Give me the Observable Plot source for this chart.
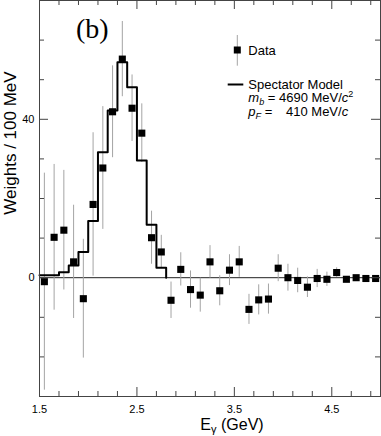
<!DOCTYPE html>
<html>
<head>
<meta charset="utf-8">
<script src="https://cdn.jsdelivr.net/npm/d3@7"></script>
<script src="https://cdn.jsdelivr.net/npm/@observablehq/plot@0.6"></script>
<style>
  body { margin: 0; background: #fff; }
  #chart svg { display: block; }
</style>
</head>
<body>
<div id="chart"></div>
<script>
// ---- data ----
const energy = [1.55, 1.65, 1.75, 1.85, 1.95, 2.05, 2.15, 2.25, 2.35, 2.45, 2.55, 2.65,
  2.75, 2.85, 2.95, 3.05, 3.15, 3.25, 3.35, 3.45, 3.55, 3.65, 3.75, 3.85, 3.95,
  4.05, 4.15, 4.25, 4.35, 4.45, 4.55, 4.65, 4.75, 4.85, 4.95];
const weights = [-1.0, 10.2, 12.0, 4.0, -5.3, 18.5, 27.7, 41.9, 55.2, 42.8, 36.5, 10.1,
  6.5, -5.7, 2.1, -3.0, -4.4, 4.0, -3.3, 1.9, 4.0, -8.0, -5.6, -5.4, 2.4,
  0.0, -0.7, -2.4, -0.2, -0.4, 1.3, -0.4, 0.0, -0.2, -0.2];
const errors = [27.4, 18.4, 15.1, 14.3, 15.0, 18.1, 15.5, 11.6, 9.5, 8.4, 7.4, 6.7,
  4.2, 4.6, 4.2, 4.7, 4.3, 4.1, 3.8, 3.9, 3.9, 3.8, 3.8, 3.8, 3.4,
  3.4, 3.1, 2.6, 2.3, 1.8, 1.2, 0.5, 0.4, 0.3, 0.3];
const modelEdges = [1.5, 1.6, 1.7, 1.8, 1.9, 2.0, 2.1, 2.2, 2.3, 2.4, 2.5, 2.6, 2.7, 2.8];
const modelWeights = [0.6, 0.6, 1.4, 3.1, 6.5, 14.3, 31.7, 42.2, 54.4, 48.1, 29.6, 13.4, 2.5, 0];
const xMajorTicks = [1.5, 2.5, 3.5, 4.5];
const xMinorTicks = [1.7, 1.9, 2.1, 2.3, 2.7, 2.9, 3.1, 3.3, 3.7, 3.9, 4.1, 4.3, 4.7, 4.9];
const yMajorTicks = [0, 40];
const yMinorTicks = [-20, -10, 10, 20, 30, 50, 60];
const xDomain = [1.5, 5.0];
const yDomain = [-30, 70];

// ---- layout ----
const W = 381, H = 436;
const mL = 39, mR = 1, mT = 0, mB = 40;
const innerW = W - mL - mR, innerH = H - mT - mB;
const minorLen = 5, majorLen = 9;
const axisColor = "#444";
const sans = "'Liberation Sans', Arial, Helvetica, sans-serif";

const data = energy.map((e, i) => ({e, w: weights[i], err: errors[i]}));
const model = modelEdges.map((e, i) => ({e, w: modelWeights[i]}));

const svg = Plot.plot({
  width: W, height: H,
  marginLeft: mL, marginRight: mR, marginTop: mT, marginBottom: mB,
  style: {fontFamily: sans, fontSize: "11px", background: "#fff", color: "#000"},
  x: {domain: xDomain},
  y: {domain: yDomain},
  marks: [
    Plot.ruleY([0], {stroke: "#222", strokeWidth: 1}),
    Plot.ruleX(data, {x: "e", y1: d => d.w - d.err, y2: d => d.w + d.err, stroke: "#a4a4a4", strokeWidth: 1}),
    Plot.line(model, {x: "e", y: "w", curve: "step-after", stroke: "#000", strokeWidth: 2}),
    Plot.dot(data, {x: "e", y: "w", symbol: "square", r: 4, fill: "#000", stroke: "none"}),
    // inward ticks: bottom / top
    Plot.tickX(xMinorTicks, {x: d => d, insetTop: innerH - minorLen, stroke: axisColor}),
    Plot.tickX(xMinorTicks, {x: d => d, insetBottom: innerH - minorLen, stroke: axisColor}),
    Plot.tickX(xMajorTicks, {x: d => d, insetTop: innerH - majorLen, stroke: axisColor}),
    Plot.tickX(xMajorTicks, {x: d => d, insetBottom: innerH - majorLen, stroke: axisColor}),
    // inward ticks: left / right
    Plot.tickY(yMinorTicks, {y: d => d, insetRight: innerW - minorLen, stroke: axisColor}),
    Plot.tickY(yMinorTicks, {y: d => d, insetLeft: innerW - minorLen, stroke: axisColor}),
    Plot.tickY(yMajorTicks, {y: d => d, insetRight: innerW - majorLen, stroke: axisColor}),
    Plot.tickY(yMajorTicks, {y: d => d, insetLeft: innerW - majorLen, stroke: axisColor}),
    Plot.axisX({ticks: xMajorTicks, tickSize: 0, tickPadding: 9, tickFormat: d3.format(".1f"), label: null}),
    Plot.axisY({ticks: yMajorTicks, tickSize: 0, tickPadding: 5, label: null}),
    Plot.frame({stroke: axisColor, strokeWidth: 1})
  ]
});

document.getElementById("chart").appendChild(svg);

// ---- annotations, axis titles, legend ----
const s = d3.select(svg);
const g = s.append("g").attr("font-family", sans).attr("fill", "#000").attr("text-anchor", "start");

// panel tag
g.append("text").attr("x", 76).attr("y", 38)
  .attr("font-family", "'Liberation Serif', 'Times New Roman', serif")
  .attr("font-size", 28).text("(b)");

// y axis title
g.append("text")
  .attr("transform", "translate(15.5,143) rotate(-90)")
  .attr("text-anchor", "middle").attr("font-size", 17)
  .text("Weights / 100 MeV");

// x axis title with subscript gamma
const xt = g.append("text").attr("x", 232).attr("y", 430)
  .attr("text-anchor", "middle").attr("font-size", 16);
xt.append("tspan").text("E");
xt.append("tspan").attr("font-size", 11).attr("dy", 3).text("\u03b3");
xt.append("tspan").attr("dy", -3).text(" (GeV)");

// legend: Data
g.append("line").attr("x1", 237.3).attr("x2", 237.3).attr("y1", 35).attr("y2", 65.7)
  .attr("stroke", "#a4a4a4").attr("stroke-width", 1);
g.append("rect").attr("x", 233.8).attr("y", 46.5).attr("width", 7).attr("height", 7).attr("fill", "#000");
g.append("text").attr("x", 248.3).attr("y", 54.5).attr("font-size", 13).text("Data");

// legend: Spectator Model
g.append("line").attr("x1", 227.7).attr("x2", 243.3).attr("y1", 84.5).attr("y2", 84.5)
  .attr("stroke", "#000").attr("stroke-width", 2);
g.append("text").attr("x", 248.3).attr("y", 89).attr("font-size", 13).text("Spectator Model");

const t1 = g.append("text").attr("x", 248.3).attr("y", 102).attr("font-size", 13);
t1.append("tspan").attr("font-style", "italic").text("m");
t1.append("tspan").attr("font-style", "italic").attr("font-size", 9).attr("dy", 3).text("b");
t1.append("tspan").attr("dy", -3).text(" = 4690 MeV/");
t1.append("tspan").attr("font-style", "italic").text("c");
t1.append("tspan").attr("font-size", 9).attr("dy", -5).text("2");

const t2 = g.append("text").attr("x", 248.3).attr("y", 115.5).attr("font-size", 13);
t2.append("tspan").attr("font-style", "italic").text("p");
t2.append("tspan").attr("font-style", "italic").attr("font-size", 9).attr("dy", 3).text("F");
t2.append("tspan").attr("dy", -3).text(" =");
t2.append("tspan").attr("x", 286).text("410 MeV/");
t2.append("tspan").attr("font-style", "italic").text("c");
</script>
</body>
</html>
